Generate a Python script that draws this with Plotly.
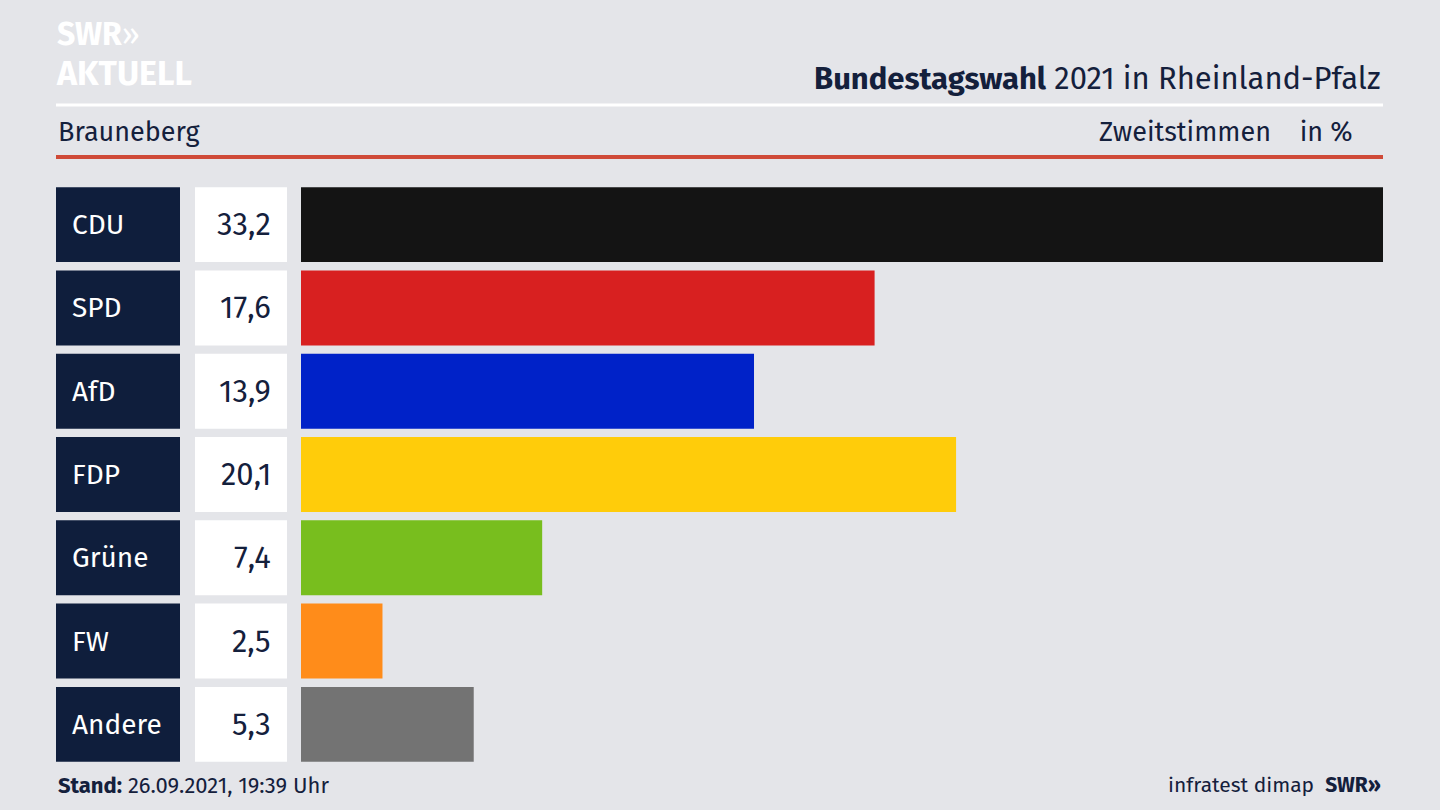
import plotly.graph_objects as go

parties = ["CDU", "SPD", "AfD", "FDP", "Grüne", "FW", "Andere"]
values = [33.2, 17.6, 13.9, 20.1, 7.4, 2.5, 5.3]
value_labels = ["33,2", "17,6", "13,9", "20,1", "7,4", "2,5", "5,3"]
colors = ["#141414", "#d82020", "#0022c8", "#ffcc0a", "#78be1e", "#ff8c1a", "#737373"]

W, H = 1440, 810
L, R, T, B = 301, 57, 183, 44
pw, ph = W - L - R, H - T - B
def px(x): return (x - L) / pw
def py(y): return (H - B - y) / ph

navy = "#14203c"
FONT = "Fira Sans, Open Sans, sans-serif"
ypos = list(range(len(parties)))

fig = go.Figure(go.Bar(x=values, y=ypos, orientation="h", marker=dict(color=colors, line_width=0),
                       width=0.9, hoverinfo="skip"))

shapes, ann = [], []
for i, (p, v) in enumerate(zip(parties, value_labels)):
    shapes.append(dict(type="rect", xref="paper", yref="y", x0=px(56), x1=px(180), y0=i-0.45, y1=i+0.45,
                       fillcolor="#0f1e3c", line_width=0, layer="below"))
    shapes.append(dict(type="rect", xref="paper", yref="y", x0=px(195), x1=px(287), y0=i-0.45, y1=i+0.45,
                       fillcolor="white", line_width=0, layer="below"))
    ann.append(dict(text=p, xref="paper", yref="y", x=px(70), y=i, xanchor="left", showarrow=False,
                    font=dict(family=FONT, size=28, color="white")))
    ann.append(dict(text=v, xref="paper", yref="y", x=px(273), y=i, xanchor="right", showarrow=False,
                    font=dict(family=FONT, size=31, color=navy)))

shapes.append(dict(type="line", xref="paper", yref="paper", x0=px(56), x1=px(1383), y0=py(105), y1=py(105),
                   line=dict(color="white", width=3)))
shapes.append(dict(type="line", xref="paper", yref="paper", x0=px(56), x1=px(1383), y0=py(157), y1=py(157),
                   line=dict(color="#cf4a38", width=4)))

def A(text, x, y, xa, size, color=navy, ya="middle"):
    ann.append(dict(text=text, xref="paper", yref="paper", x=px(x), y=py(y), xanchor=xa, yanchor=ya,
                    showarrow=False, font=dict(family=FONT, size=size, color=color)))

A("<b>SWR</b>»", 55, 34, "left", 32, "white")
A("<b>AKTUELL</b>", 54, 73, "left", 34, "white")
A("<b>Bundestagswahl</b> 2021 in Rheinland-Pfalz", 1383, 78, "right", 31)
A("Brauneberg", 56, 132, "left", 27)
A("Zweitstimmen    in %", 1355, 132, "right", 27)
A("<b>Stand:</b> 26.09.2021, 19:39 Uhr", 56, 785, "left", 22)
A("infratest dimap  <b>SWR»</b>", 1383, 785, "right", 21)

fig.update_layout(width=W, height=H, margin=dict(l=L, r=R, t=T, b=B),
                  paper_bgcolor="#e4e5e9", plot_bgcolor="rgba(0,0,0,0)", showlegend=False,
                  xaxis=dict(range=[0, 33.2], visible=False, fixedrange=True),
                  yaxis=dict(range=[6.5, -0.5], visible=False, fixedrange=True),
                  shapes=shapes, annotations=ann)
fig.write_html("out.html", config={"displayModeBar": False},
               post_script="document.body.style.margin='0';document.body.style.overflow='hidden';")
